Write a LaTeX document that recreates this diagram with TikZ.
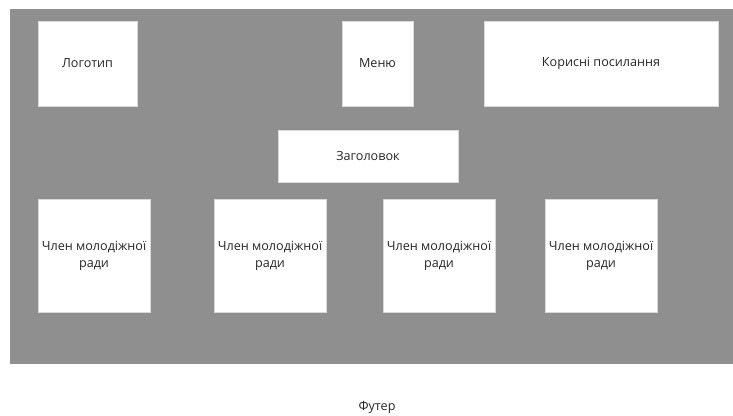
\documentclass[tikz,border=0pt]{standalone}
\usepackage{fontspec}
\setmainfont{Open Sans}
\usepackage{tikz}
\definecolor{pagegray}{HTML}{8F8F8F}
\tikzset{
  block/.style={fill=white, draw=black!15, line width=0.6pt, inner sep=0pt,
    text=black!85, font=\fontsize{12.6}{17}\selectfont, align=center},
}

\begin{document}
\begin{tikzpicture}[x=1pt, y=-1pt]
        \useasboundingbox (0,0) rectangle (733,415);
        \fill[color=pagegray] (10,9) rectangle (733,364);
        \node[block, minimum width=99pt, minimum height=85pt] (logo) at (87.5,63.5) {Логотип};
        \node[block, minimum width=71pt, minimum height=85pt] (menu) at (377.5,63.5) {Меню};
        \node[block, minimum width=234pt, minimum height=85pt] (links) at (601,63.5) {Корисні посилання};
        \node[block, minimum width=180pt, minimum height=52pt] (title) at (368,156) {Заголовок};
        \node[block, minimum width=112pt, minimum height=113pt] (member1) at (94,255.5) {Член молодіжної\\ради};
        \node[block, minimum width=112pt, minimum height=113pt] (member2) at (270,255.5) {Член молодіжної\\ради};
        \node[block, minimum width=112pt, minimum height=113pt] (member3) at (439,255.5) {Член молодіжної\\ради};
        \node[block, minimum width=112pt, minimum height=113pt] (member4) at (601,255.5) {Член молодіжної\\ради};
        \node[text=black!85, font=\fontsize{12.6}{17}\selectfont] (footer) at (377,407) {Футер};
    \end{tikzpicture}
\end{document}
